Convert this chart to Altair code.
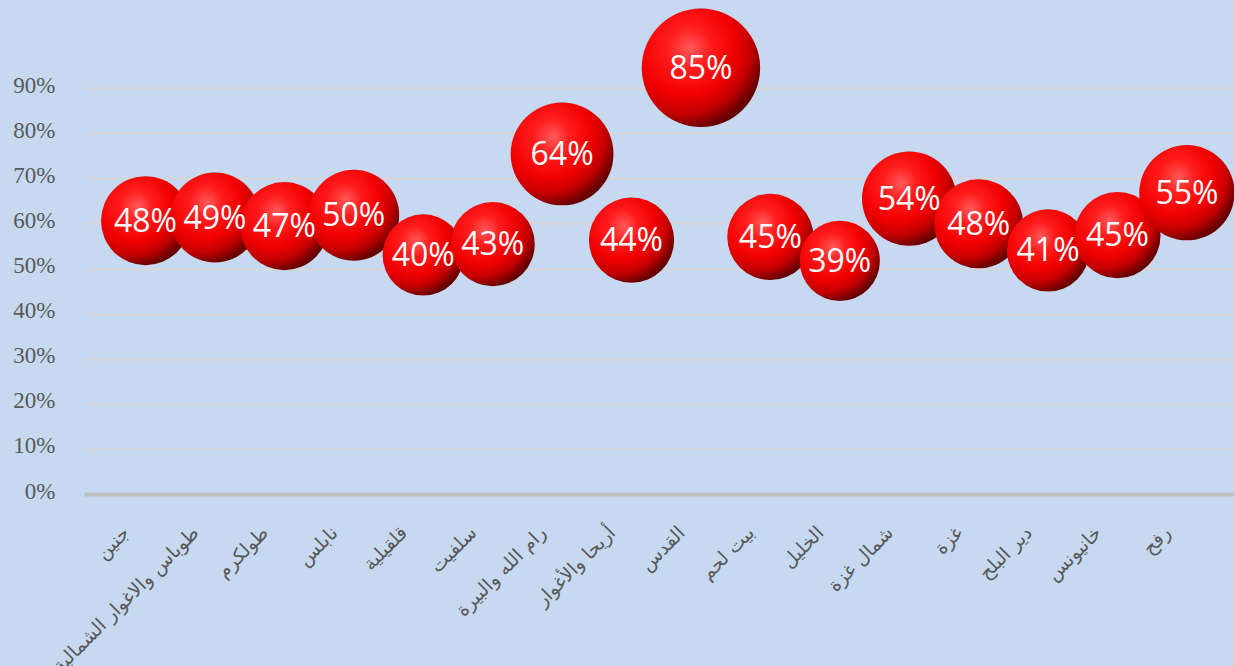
import json
import altair as alt
import pandas as pd

# Governorates, left to right
names = [
    "جنين",
    "طوباس والاغوار الشمالية",
    "طولكرم",
    "نابلس",
    "قلقيلية",
    "سلفيت",
    "رام الله والبيرة",
    "أريحا والأغوار",
    "القدس",
    "بيت لحم",
    "الخليل",
    "شمال غزة",
    "غزة",
    "دير البلح",
    "خانيونس",
    "رفح",
]

# Share shown in each bubble (also drives bubble area)
values = [0.48, 0.49, 0.47, 0.50, 0.40, 0.43, 0.64, 0.44,
          0.85, 0.45, 0.39, 0.54, 0.48, 0.41, 0.45, 0.55]

# Vertical position of each bubble on the percentage axis
ypos = [0.606, 0.613, 0.594, 0.618, 0.530, 0.554, 0.754, 0.563,
        0.945, 0.570, 0.517, 0.655, 0.599, 0.540, 0.574, 0.668]

df = pd.DataFrame({
    "idx": list(range(len(names))),
    "name": names,
    "val": values,
    "ypos": ypos,
})

label_expr = json.dumps(names, ensure_ascii=False) + "[datum.value]"

sphere = {
    "gradient": "radial",
    "x1": 0.42, "y1": 0.34, "r1": 0,
    "x2": 0.32, "y2": 0.30, "r2": 0.82,
    "stops": [
        {"offset": 0.0, "color": "#ff5a5a"},
        {"offset": 0.22, "color": "#ff1c1c"},
        {"offset": 0.50, "color": "#f20000"},
        {"offset": 0.70, "color": "#c40000"},
        {"offset": 0.86, "color": "#700000"},
        {"offset": 1.0, "color": "#4c0000"},
    ],
}

x_enc = alt.X(
    "idx:Q",
    scale=alt.Scale(domain=[-0.886, 15.678], nice=False, zero=False),
    axis=alt.Axis(
        values=list(range(len(names))),
        labelExpr=label_expr,
        grid=False,
        ticks=False,
        tickSize=0,
        labelAngle=-45,
        labelAlign="right",
        labelBaseline="top",
        labelOffset=-26,
        labelPadding=29,
        labelOverlap=False,
        labelFlush=False,
        labelBound=False,
        labelLimit=600,
        labelFont="DejaVu Sans",
        labelFontSize=19,
        labelColor="#595959",
        domainColor="#bfbfbf",
        domainWidth=4,
        title=None,
    ),
)

y_enc = alt.Y(
    "ypos:Q",
    scale=alt.Scale(domain=[0, 1], nice=False),
    axis=alt.Axis(
        values=[i / 10 for i in range(10)],
        format=".0%",
        grid=True,
        gridColor="#d6d6d6",
        gridWidth=2,
        ticks=False,
        domain=False,
        labelPadding=29,
        labelFont="Liberation Serif",
        labelFontSize=23,
        labelColor="#595959",
        labelOffset=-3,
        title=None,
    ),
)

size_enc = alt.Size(
    "val:Q",
    scale=alt.Scale(domain=[0, 1], range=[0, 16500], zero=True),
    legend=None,
)

bubbles = alt.Chart(df).mark_circle(
    fill=sphere, opacity=1, strokeWidth=0
).encode(x=x_enc, y=y_enc, size=size_enc)

labels = alt.Chart(df).mark_text(
    font="Open Sans", fontSize=32, color="white", baseline="middle", dy=1
).encode(
    x=alt.X("idx:Q"),
    y=alt.Y("ypos:Q"),
    text=alt.Text("val:Q", format=".0%"),
)

chart = alt.layer(bubbles, labels).properties(
    width=1150,
    height=451,
    padding={"left": 84, "top": 43, "right": 0, "bottom": 172},
    autosize="none",
    background="#c6d9f1",
).configure_view(stroke=None)

chart.save("out.html", embed_options={"renderer": "svg", "actions": False})
